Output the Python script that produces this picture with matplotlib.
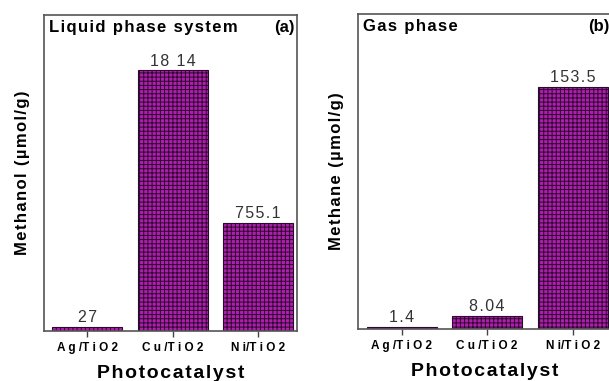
import numpy as np
import matplotlib.pyplot as plt

plt.rcParams['font.family'] = ['Liberation Sans', 'DejaVu Sans']
plt.rcParams['hatch.linewidth'] = 0.7

catalysts = ['Ag/TiO2', 'Cu/TiO2', 'Ni/TiO2']
tick_labels = ['A g /T i O 2', 'C u /T i O 2', 'N i/T i O 2']
methanol = [27, 1814, 755.1]
methanol_labels = ['27', '18 14', '755.1']
methane = [1.4, 8.04, 153.5]
methane_labels = ['1.4', '8.04', '153.5']


def spaced(s):
    # the original uses wide letter spacing
    return '\u200a'.join(s)


fig = plt.figure(figsize=(6.09, 3.81), dpi=100)
ax1 = fig.add_axes([0.0722, 0.1312, 0.4154, 0.8294])
ax2 = fig.add_axes([0.5878, 0.1365, 0.417, 0.8268])

panels = [
    (ax1, methanol, methanol_labels, 2200, 'Methanol (µmol/g)', 'Liquid phase system', '(a)'),
    (ax2, methane, methane_labels, 200, 'Methane (µmol/g)', 'Gas phase', '(b)'),
]

x = np.arange(len(catalysts))
for ax, vals, labs, ymax, ylab, title, tag in panels:
    bars = ax.bar(x, vals, width=0.82, color='#b01eb0', edgecolor='#2a0a2a',
                  hatch='++++', linewidth=0.8)
    for b, lab in zip(bars, labs):
        ax.text(b.get_x() + b.get_width() / 2, b.get_height() + ymax * 0.006, spaced(lab),
                ha='center', va='bottom', fontsize=11.5, color='#333333')
    ax.set_xlim(-0.51, 2.46)
    ax.set_ylim(0, ymax)
    ax.set_xticks(x)
    ax.set_xticklabels(tick_labels, fontsize=8.5, fontweight='bold')
    ax.set_yticks([])
    ax.tick_params(axis='x', direction='out', length=4, width=1, color='#444444', pad=4)
    ax.set_xlabel(spaced('Photocatalyst'), fontsize=14, fontweight='bold', labelpad=8)
    ax.set_ylabel(spaced(ylab), fontsize=12, fontweight='bold', labelpad=10)
    for s in ax.spines.values():
        s.set_color('#555555')
        s.set_linewidth(1.2)
    ax.text(0.02, 0.985, spaced(title), transform=ax.transAxes, ha='left', va='top',
            fontsize=12, fontweight='bold')
    ax.text(0.99, 0.985, tag, transform=ax.transAxes, ha='right', va='top',
            fontsize=12, fontweight='bold')

fig.savefig('out.png', dpi=100)
